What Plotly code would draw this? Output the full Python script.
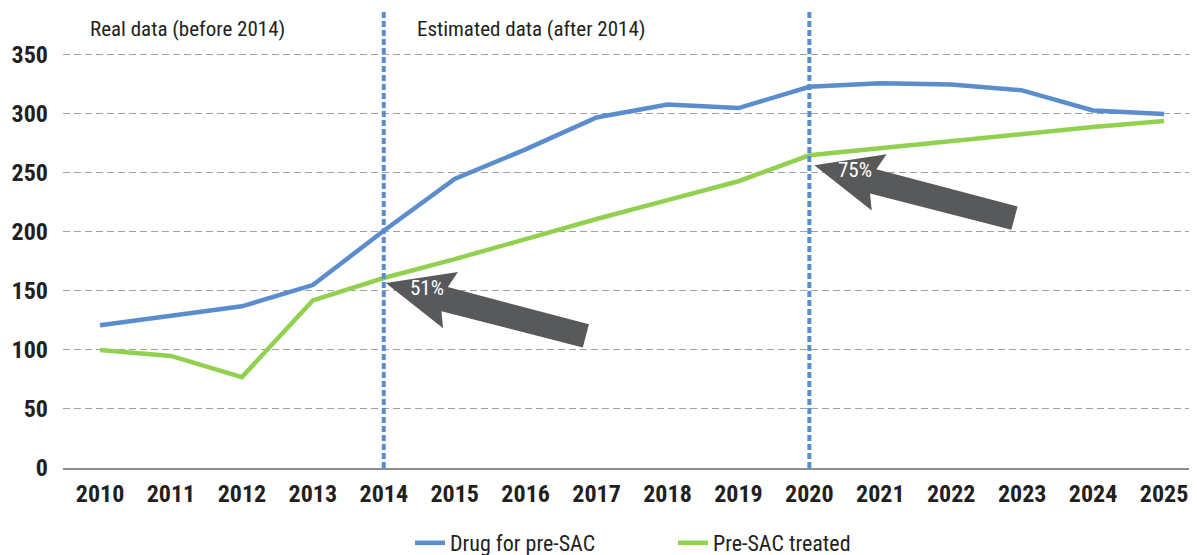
import math
import plotly.graph_objects as go

years = list(range(2010, 2026))
drug_for_presac = [121, 129, 137, 155, 201, 245, 270, 297, 308, 305, 323, 326, 325, 320, 303, 300]
presac_treated = [100, 95, 77, 142, 161, 177, 194, 211, 227, 243, 265, 271, 277, 283, 289, 294]
y_ticks = [0, 50, 100, 150, 200, 250, 300, 350]
boundary_years = [2014, 2020]
arrow_labels = ["51%", "75%"]

FONT = "Roboto Condensed, Liberation Sans Narrow, Arial Narrow, DejaVu Sans Condensed, sans-serif"
BLUE = "#5B8DCD"
GREEN = "#92D050"
ARROW = "#58595B"
TXT = "#231F20"

# the page body adds an 8px offset, so the figure is 8px smaller than the window
W, H = 1189, 547
ML, MR, MT, MB = 55, 0, 4, 87
plot_w = W - ML - MR
plot_h = H - MT - MB
x_range = [2009.478, 2025.465]
y_range = [0, 386.4]
xs = plot_w / (x_range[1] - x_range[0])   # px per year
ys = plot_h / (y_range[1] - y_range[0])   # px per unit

fig = go.Figure()
fig.add_trace(go.Scatter(x=years, y=drug_for_presac, mode="lines", name="Drug for pre-SAC",
                         line=dict(color=BLUE, width=4.5)))
fig.add_trace(go.Scatter(x=years, y=presac_treated, mode="lines", name="Pre-SAC treated",
                         line=dict(color=GREEN, width=4.5)))

# vertical dotted boundary lines
for by in boundary_years:
    fig.add_shape(type="line", xref="x", yref="paper", x0=by, x1=by, y0=0, y1=1,
                  line=dict(color=BLUE, width=4, dash="6px,3px"), layer="above")

# block arrows pointing at the green line at the boundary years
ang = math.atan2(53, 200.5)
u = (math.cos(ang), math.sin(ang))
n = (-math.sin(ang), math.cos(ang))
outline = [(0, 0), (67, -29), (61, -12), (207, -12), (207, 12), (61, 13), (67, 29)]
tip_offsets = [(2, 5), (5, 10)]
for by, lab, (ox, oy) in zip(boundary_years, arrow_labels, tip_offsets):
    yv = presac_treated[years.index(by)]
    pts = []
    for a, b in outline:
        px = ox + a * u[0] + b * n[0]
        py = oy + a * u[1] + b * n[1]
        pts.append((by + px / xs, yv - py / ys))
    path = "M " + " L ".join(f"{p[0]:.4f},{p[1]:.3f}" for p in pts) + " Z"
    fig.add_shape(type="path", xref="x", yref="y", path=path,
                  fillcolor=ARROW, line=dict(width=0), layer="above")
    fig.add_annotation(x=by, y=yv, xref="x", yref="y", text=lab, showarrow=False,
                       xshift=ox + 41, yshift=-(oy + 5),
                       font=dict(family=FONT, size=21, color="white"))

for txt, xa, sh in [("Real data (before 2014)", years[0], -12),
                    ("Estimated data (after 2014)", boundary_years[0], 31)]:
    fig.add_annotation(x=xa, y=1, xref="x", yref="paper", text=txt, showarrow=False,
                       xanchor="left", yanchor="top", xshift=sh, yshift=-3,
                       font=dict(family=FONT, size=21, color=TXT))

fig.update_layout(
    width=W, height=H,
    margin=dict(l=ML, r=MR, t=MT, b=MB, autoexpand=False),
    paper_bgcolor="white", plot_bgcolor="white",
    showlegend=True,
    legend=dict(orientation="h", xanchor="left", x=347 / plot_w,
                yref="container", yanchor="middle", y=(H - 535) / H,
                entrywidth=218, entrywidthmode="pixels",
                font=dict(family=FONT, size=22, color=TXT), bgcolor="rgba(0,0,0,0)"),
    xaxis=dict(range=x_range, tickmode="array", tickvals=years, ticktext=[str(y) for y in years],
               showgrid=False, zeroline=False, showline=True, linecolor="#8C8C8C", linewidth=1.5,
               ticks="", ticklabelstandoff=3, automargin=False,
               tickfont=dict(family=FONT, size=24, color=TXT, weight="bold")),
    yaxis=dict(range=y_range, tickmode="array", tickvals=y_ticks,
               showgrid=True, gridcolor="#A0A0A0", gridwidth=1.3, griddash="7px,4px",
               zeroline=False, showline=False, ticks="", ticklabelstandoff=14, automargin=False,
               tickfont=dict(family=FONT, size=24, color=TXT, weight="bold")),
)

fig.write_html("out.html")
